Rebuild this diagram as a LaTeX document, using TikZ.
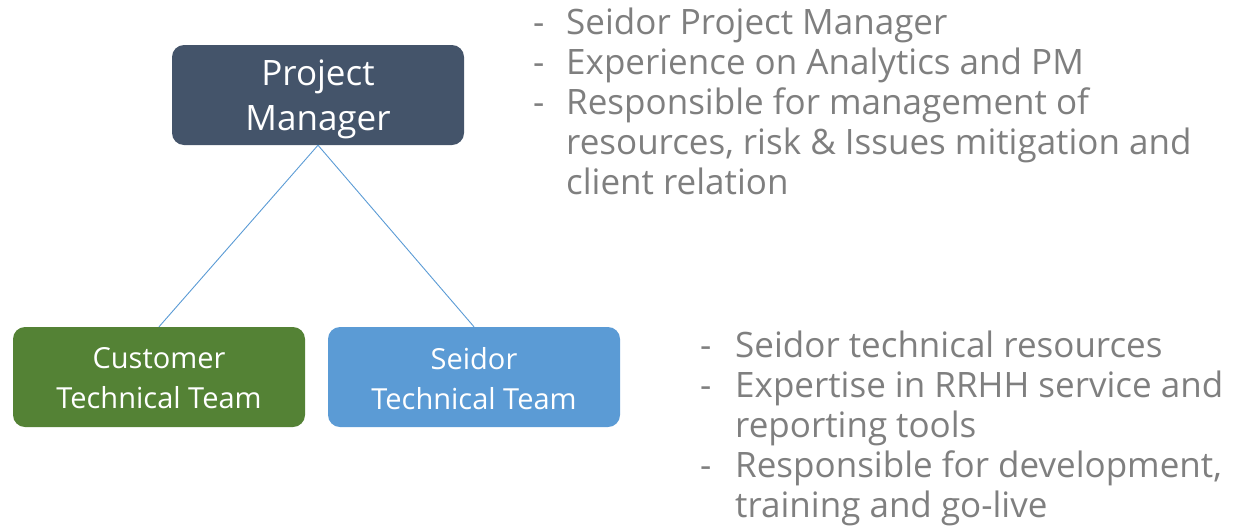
\documentclass[tikz,border=0pt]{standalone}
\usepackage{fontspec}
\setmainfont{Open Sans}
\definecolor{pmblue}{HTML}{44546A}
\definecolor{custgreen}{HTML}{548235}
\definecolor{seidorblue}{HTML}{5B9BD5}
\definecolor{txtgray}{HTML}{7F7F7F}
\begin{document}
\begin{tikzpicture}[x=1pt,y=-1pt,
  box/.style={rounded corners=12pt, inner sep=0pt, minimum width=292pt, minimum height=100pt},
  boxtext/.style={inner sep=0pt, text=white, align=center},
  link/.style={draw=seidorblue, line width=0.9pt},
  bul/.style={anchor=base west, inner sep=0pt, text=txtgray, font=\fontsize{35}{40}\selectfont},
]
\useasboundingbox (0,0) rectangle (1241,528);
\node[box, fill=pmblue] (pm) at (318,95) {};
\node[box, fill=custgreen] (cust) at (159,377) {};
\node[box, fill=seidorblue] (sei) at (474,377) {};
\node[boxtext, font=\fontsize{35}{45}\selectfont] (pmt) at ([yshift=-4pt]pm.center) {Project\\Manager};
\node[boxtext, font=\fontsize{29}{40}\selectfont] (custt) at ([yshift=-1.5pt]cust.center) {Customer\\Technical Team};
\node[boxtext, font=\fontsize{29}{40}\selectfont] (seit) at ([yshift=-1.5pt]sei.center) {Seidor\\Technical Team};
\draw[link] (pm.south) -- (cust.north);
\draw[link] (pm.south) -- (sei.north);
% top notes
\node[bul] (d1) at (533,34) {-};
\node[bul] (t1) at (566,34) {Seidor Project Manager};
\node[bul] (d2) at (533,74) {-};
\node[bul] (t2) at (566,74) {Experience on Analytics and PM};
\node[bul] (d3) at (533,114) {-};
\node[bul] (t3) at (566,114) {Responsible for management of};
\node[bul] (t4) at (566,154) {resources, risk \& Issues mitigation and};
\node[bul] (t5) at (566,194) {client relation};
% bottom notes
\node[bul] (e1) at (700,357) {-};
\node[bul] (u1) at (735,357) {Seidor technical resources};
\node[bul] (e2) at (700,397) {-};
\node[bul] (u2) at (735,397) {Expertise in RRHH service and};
\node[bul] (u3) at (735,437) {reporting tools};
\node[bul] (e3) at (700,477) {-};
\node[bul] (u4) at (735,477) {Responsible for development,};
\node[bul] (u5) at (735,517) {training and go-live};
\end{tikzpicture}
\end{document}
